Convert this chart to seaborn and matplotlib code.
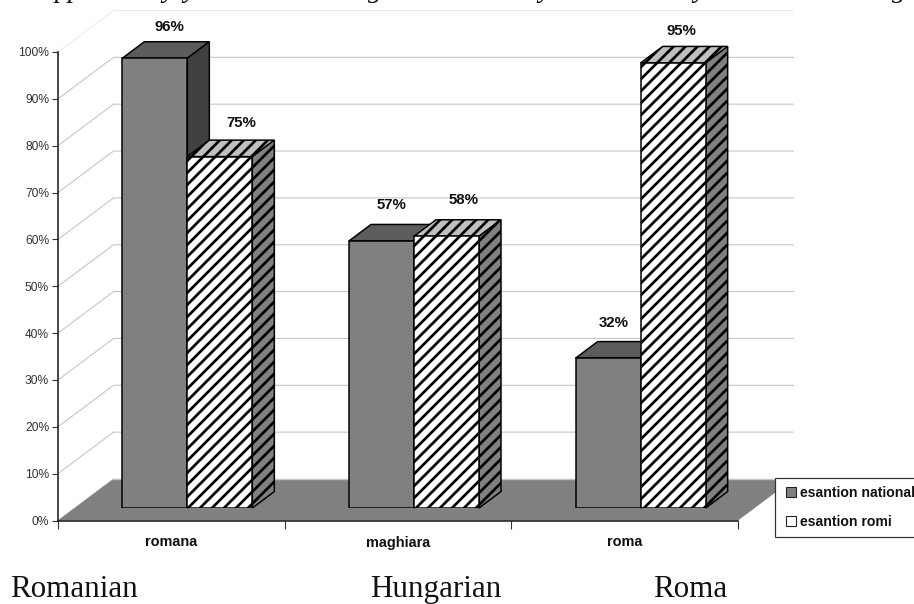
import matplotlib
matplotlib.use("Agg")
import matplotlib.pyplot as plt
from matplotlib.patches import Polygon, Patch, Rectangle
import pandas as pd
import seaborn as sns

categories = ["romana", "maghiara", "roma"]
english_labels = ["Romanian", "Hungarian", "Roma"]
series_names = ["esantion national", "esantion romi"]
national = [96, 57, 32]
romi = [75, 58, 95]
y_ticks = list(range(0, 101, 10))

sns.set_theme(style="white")
plt.rcParams["font.family"] = ["Liberation Sans", "DejaVu Sans"]
plt.rcParams["hatch.linewidth"] = 2.7

W, H, DPI = 914, 604, 72
fig = plt.figure(figsize=(W / DPI, H / DPI), dpi=DPI, facecolor="white")

PX_X = 680 / 3       # px per category
PX_Y = 468.5 / 100   # px per percent


def rect(left, bottom_from_top, w, h):
    return [left / W, (H - bottom_from_top) / H, w / W, h / H]


ax = fig.add_axes(rect(58, 520.5, 680, 468.5))
bar_ax = fig.add_axes(rect(74, 508, 680, 468.5))
for a in (ax, bar_ax):
    a.set_xlim(-0.5, 2.5)
    a.set_ylim(0, 100)
    a.patch.set_visible(False)
ax.set_zorder(1)
bar_ax.set_zorder(2)

# wall and floor of the 3D box
wall_dx, wall_dy = 55.5 / PX_X, 41.5 / PX_Y
ax.add_patch(Polygon([(-0.5, 0), (2.5, 0), (2.5 + wall_dx, wall_dy), (-0.5 + wall_dx, wall_dy)],
                     closed=True, fc="#808080", ec="none", clip_on=False, zorder=1))
ax.plot([-0.5 + wall_dx, 2.5 + wall_dx], [wall_dy, wall_dy], color="#c4c4c4", lw=1.4,
        clip_on=False, zorder=1.1)
for v in y_ticks:
    col = "#ececec" if v == 100 else "#c6c6c6"
    xs = [-0.5, -0.5 + wall_dx] + ([2.5 + wall_dx] if v > 0 else [])
    ys = [v, v + wall_dy] + ([v + wall_dy] if v > 0 else [])
    ax.plot(xs, ys, color=col, lw=1.1, clip_on=False, zorder=0.5)

# axis furniture
for s in ("top", "right"):
    ax.spines[s].set_visible(False)
for s in ("left", "bottom"):
    ax.spines[s].set_color("#111111")
    ax.spines[s].set_linewidth(1.5)
ax.set_yticks(y_ticks)
ax.set_yticklabels([f"{v}%" for v in y_ticks], fontsize=12, color="#333333")
ax.tick_params(axis="y", left=True, length=6, width=1.1, color="#333333", pad=3)
ax.set_xticks(range(3))
ax.set_xticklabels(categories, fontsize=14.5, fontweight="bold", color="#111111", va="baseline")
ax.tick_params(axis="x", bottom=False, pad=20)
ax.set_xticks([-0.5, 0.5, 1.5, 2.5], minor=True)
ax.tick_params(axis="x", which="minor", bottom=True, length=8, width=1.1, color="#333333")

# bars
df = pd.DataFrame({
    "limba": categories * 2,
    "esantion": [series_names[0]] * 3 + [series_names[1]] * 3,
    "pct": national + romi,
})
sns.barplot(data=df, x="limba", y="pct", hue="esantion", order=categories,
            hue_order=series_names, palette=["#808080", "#ffffff"], saturation=1,
            width=130 / PX_X, gap=0, errorbar=None, edgecolor="black", linewidth=1.5,
            legend=False, ax=bar_ax)
bar_ax.set_xlim(-0.5, 2.5)
bar_ax.set_ylim(0, 100)
bar_ax.axis("off")

depth_x, depth_y = 22 / PX_X, 16.5 / PX_Y
styles = [
    dict(top="#5c5c5c", side="#404040", hatch=None),
    dict(top="#c0c0c0", side="#808080", hatch="//"),
]
label_dx = [[15, 10.5, 6], [21, 17.5, 8]]
label_dy = [[31, 36, 35], [34, 36, 32]]
for si, cont in enumerate(bar_ax.containers):
    st = styles[si]
    for ci, bar in enumerate(cont):
        x0, w, h = bar.get_x(), bar.get_width(), bar.get_height()
        x1 = x0 + w
        if st["hatch"]:
            bar.set_hatch(st["hatch"])
        bar_ax.add_patch(Polygon([(x0, h), (x1, h), (x1 + depth_x, h + depth_y), (x0 + depth_x, h + depth_y)],
                                 closed=True, fc=st["top"], ec="black", lw=1.5, hatch=st["hatch"],
                                 clip_on=False, zorder=bar.get_zorder() - 0.1 + si * 0.01))
        bar_ax.add_patch(Polygon([(x1, 0), (x1 + depth_x, depth_y), (x1 + depth_x, h + depth_y), (x1, h)],
                                 closed=True, fc=st["side"], ec="black", lw=1.5, hatch=st["hatch"],
                                 clip_on=False, zorder=bar.get_zorder() - 0.1 + si * 0.01))
        bar_ax.annotate(f"{h:.0f}%", (x0 + w / 2, h), xytext=(label_dx[si][ci], label_dy[si][ci]),
                        textcoords="offset pixels", ha="center", va="center", fontsize=15,
                        fontweight="bold", color="#111111", annotation_clip=False)
    cont.set_label(series_names[si])

# legend: a box that runs off the right edge, with the entries on top of it
box = Rectangle((774.5 / W, 1 - 537 / H), 150 / W, 59 / H, transform=fig.transFigure,
                fc="white", ec="#333333", lw=1.2, zorder=4)
fig.add_artist(box)
handles = [Patch(fc="#808080", ec="#222222", lw=1.1, label=series_names[0]),
           Patch(fc="white", ec="#222222", lw=1.1, label=series_names[1])]
leg = fig.legend(handles=handles, loc="upper left", bbox_to_anchor=(777 / W, 1 - 477.5 / H),
                 bbox_transform=fig.transFigure, prop={"size": 14, "weight": "bold"},
                 frameon=False, handlelength=0.72, handleheight=0.72, handletextpad=0.3,
                 labelspacing=1.05, borderpad=0.62, borderaxespad=0, labelcolor="#111111")
leg.set_zorder(5)

# text around the picture
serif = ["Liberation Serif", "DejaVu Serif"]
for label, px in zip(english_labels, [10, 370, 653]):
    fig.text(px / W, 1 - 597 / H, label, family=serif, fontsize=31, color="#111111",
             ha="left", va="baseline")
for glyph, px in zip(["pp", "y", "y", "g", "y", "y", "g"], [55, 162, 183, 368, 538, 693, 892]):
    fig.text(px / W, 1 + 3 / H, glyph, family=serif, style="italic", fontsize=28,
             color="#111111", ha="left", va="baseline")

fig.savefig("out.png", dpi=DPI, facecolor="white")
